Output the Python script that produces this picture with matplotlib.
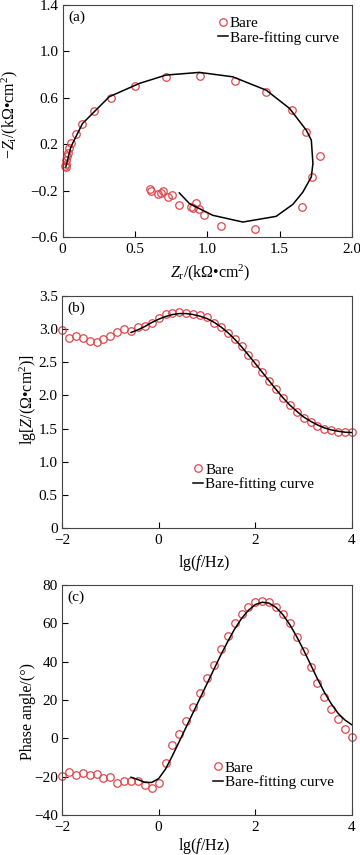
import numpy as np
import matplotlib
matplotlib.use("Agg")
import matplotlib.pyplot as plt

plt.rcParams['font.family'] = ['Liberation Serif', 'DejaVu Serif']
plt.rcParams['mathtext.fontset'] = 'custom'
plt.rcParams['mathtext.rm'] = 'Liberation Serif'
plt.rcParams['mathtext.it'] = 'Liberation Serif:italic'
plt.rcParams['font.size'] = 11

# ---- data ----
# (a) Nyquist, kOhm cm2
zr_bare = [0.020, 0.023, 0.023, 0.026, 0.030, 0.040, 0.046, 0.058, 0.092, 0.138,
           0.215, 0.334, 0.503, 0.715, 0.953, 1.190, 1.407, 1.585, 1.680, 1.776,
           1.723, 1.654, 1.329, 1.096, 0.976, 0.946, 0.923, 0.900, 0.888, 0.807,
           0.757, 0.731, 0.692, 0.680, 0.657, 0.611, 0.604]
zi_bare = [0.010, 0.000, 0.030, 0.060, 0.095, 0.125, 0.163, 0.210, 0.286, 0.373,
           0.485, 0.594, 0.700, 0.776, 0.784, 0.744, 0.649, 0.494, 0.309, 0.099,
           -0.082, -0.341, -0.528, -0.508, -0.407, -0.361, -0.306, -0.347, -0.341, -0.327,
           -0.240, -0.255, -0.206, -0.220, -0.232, -0.203, -0.188]
zr_fit = [0.023, 0.058, 0.138, 0.323, 0.531, 0.715, 0.946, 1.176, 1.407, 1.569,
          1.684, 1.719, 1.730, 1.719, 1.661, 1.592, 1.476, 1.246, 1.038, 0.877, 0.807]
zi_fit = [0.004, 0.177, 0.378, 0.609, 0.724, 0.796, 0.819, 0.781, 0.666, 0.508,
          0.321, 0.235, 0.033, -0.082, -0.212, -0.318, -0.422, -0.471, -0.413, -0.312, -0.220]

# (b),(c) Bode
lgf = [-2.000, -1.857, -1.714, -1.571, -1.429, -1.286, -1.143, -1.000, -0.857, -0.714,
       -0.571, -0.429, -0.286, -0.143, 0.000, 0.143, 0.286, 0.429, 0.571, 0.714,
       0.857, 1.000, 1.143, 1.286, 1.429, 1.571, 1.714, 1.857, 2.000, 2.143,
       2.286, 2.429, 2.571, 2.714, 2.857, 3.000, 3.143, 3.286, 3.429, 3.571,
       3.714, 3.857, 4.000]
lgz_bare = [2.99, 2.86, 2.90, 2.87, 2.82, 2.80, 2.85, 2.90, 2.95, 3.00,
            2.97, 3.03, 3.05, 3.10, 3.17, 3.23, 3.25, 3.26, 3.25, 3.23,
            3.21, 3.18, 3.10, 3.03, 2.94, 2.85, 2.74, 2.61, 2.49, 2.35,
            2.22, 2.09, 1.96, 1.86, 1.75, 1.66, 1.60, 1.54, 1.50, 1.48,
            1.45, 1.45, 1.45]
phase_bare = [-19.6, -17.4, -19.1, -18.1, -19.3, -18.6, -20.5, -20.3, -23.5, -22.1,
              -22.1, -22.3, -24.3, -26.1, -23.1, -12.7, -3.5, 2.3, 9.2, 16.5,
              23.5, 31.3, 38.5, 46.5, 53.5, 60.0, 64.9, 68.6, 70.9, 71.5,
              70.9, 68.6, 64.9, 60.0, 53.0, 45.4, 37.2, 29.1, 21.7, 15.5,
              9.9, 4.7, 0.5]
lgf_fit = lgf[10:]
lgz_fit = [2.95, 2.99, 3.04, 3.10, 3.15, 3.19, 3.22, 3.235, 3.235, 3.22,
           3.195, 3.16, 3.105, 3.035, 2.95, 2.85, 2.735, 2.61, 2.48, 2.35,
           2.22, 2.09, 1.965, 1.855, 1.76, 1.675, 1.61, 1.555, 1.51, 1.48,
           1.46, 1.445, 1.44]
phase_fit = [-20.3, -21.5, -23.0, -23.0, -21.0, -16.0, -9.0, -1.5, 6.0, 13.5,
             21.0, 28.5, 36.0, 43.5, 50.5, 57.0, 62.5, 66.8, 69.8, 71.0,
             70.5, 68.3, 64.5, 59.3, 53.0, 46.0, 38.5, 31.0, 24.0, 18.0,
             13.0, 9.5, 7.0]

red = '#e0474c'
mk = dict(ls='none', marker='o', ms=5.4, mfc='none', mec=red, mew=0.9, clip_on=False, label='Bare')
ln = dict(color='k', lw=1.1, label='Bare-fitting curve')

fig = plt.figure(figsize=(3.6, 8.55), dpi=100)
ax_a = fig.add_axes([62.5/360, 1-237/855, 289.5/360, 232/855])
ax_b = fig.add_axes([62/360, 1-528/855, 290/360, 232/855])
ax_c = fig.add_axes([62/360, 1-815/855, 290/360, 230/855])

def style(ax):
    for s in ax.spines.values():
        s.set_color('#444444')
        s.set_linewidth(0.8)
    ax.tick_params(direction='in', length=4, width=0.8, pad=3, labelsize=11)
    ax.tick_params(axis='x', pad=4.5)

def labels(ax, xl, yl, xpos, ypos):
    ax.set_xlabel(xl, fontsize=11.5)
    ax.set_ylabel(yl, fontsize=11.5)
    ax.xaxis.label.set_va('center')
    ax.yaxis.label.set_va('center')
    ax.xaxis.set_label_coords(*xpos)
    ax.yaxis.set_label_coords(*ypos)

def leg(ax, x, y):
    ax.legend(loc='upper left', bbox_to_anchor=(x, y), frameon=False, fontsize=11,
              handlelength=0.65, handletextpad=0.15, labelspacing=0.05,
              borderpad=0, borderaxespad=0, numpoints=1)

# (a)
ax_a.plot(zr_bare, zi_bare, **mk)
ax_a.plot(zr_fit, zi_fit, **ln)
ax_a.set_xlim(0, 2.0)
ax_a.set_ylim(-0.6, 1.4)
ax_a.set_xticks([0, 0.5, 1.0, 1.5, 2.0])
ax_a.set_xticklabels(['0', '0.5', '1.0', '1.5', '2.0'])
ax_a.set_yticks([-0.6, -0.2, 0.2, 0.6, 1.0, 1.4])
ax_a.set_yticklabels(['−0.6', '−0.2', '0.2', '0.6', '1.0', '1.4'])
labels(ax_a, '$Z_\\mathrm{r}$/(kΩ•cm$^2$)', '−$Z_\\mathrm{i}$/(kΩ•cm$^2$)',
       (0.51, -0.155), (-0.183, 0.53))
ax_a.text(0.02, 0.975, '(a)', transform=ax_a.transAxes, ha='left', va='top', fontsize=11)
style(ax_a)
leg(ax_a, 0.536, 0.95)

# (b)
ax_b.plot(lgf, lgz_bare, **mk)
ax_b.plot(lgf_fit, lgz_fit, **ln)
ax_b.set_xlim(-2, 4)
ax_b.set_ylim(0, 3.5)
ax_b.set_xticks([-2, 0, 2, 4])
ax_b.set_xticklabels(['−2', '0', '2', '4'])
ax_b.set_yticks([0, 0.5, 1.0, 1.5, 2.0, 2.5, 3.0, 3.5])
ax_b.set_yticklabels(['0', '0.5', '1.0', '1.5', '2.0', '2.5', '3.0', '3.5'])
labels(ax_b, 'lg($f$/Hz)', 'lg[$Z$/(Ω•cm$^2$)]', (0.49, -0.151), (-0.117, 0.556))
ax_b.text(0.02, 0.975, '(b)', transform=ax_b.transAxes, ha='left', va='top', fontsize=11)
style(ax_b)
leg(ax_b, 0.452, 0.28)

# (c)
ax_c.plot(lgf, phase_bare, **mk)
ax_c.plot(lgf_fit, phase_fit, **ln)
ax_c.set_xlim(-2, 4)
ax_c.set_ylim(-40, 80)
ax_c.set_xticks([-2, 0, 2, 4])
ax_c.set_xticklabels(['−2', '0', '2', '4'])
ax_c.set_yticks([-40, -20, 0, 20, 40, 60, 80])
ax_c.set_yticklabels(['−40', '−20', '0', '20', '40', '60', '80'])
labels(ax_c, 'lg($f$/Hz)', 'Phase angle/(°)', (0.49, -0.135), (-0.117, 0.452))
ax_c.text(0.02, 0.975, '(c)', transform=ax_c.transAxes, ha='left', va='top', fontsize=11)
style(ax_c)
leg(ax_c, 0.52, 0.235)

fig.savefig('out.png', dpi=100)
